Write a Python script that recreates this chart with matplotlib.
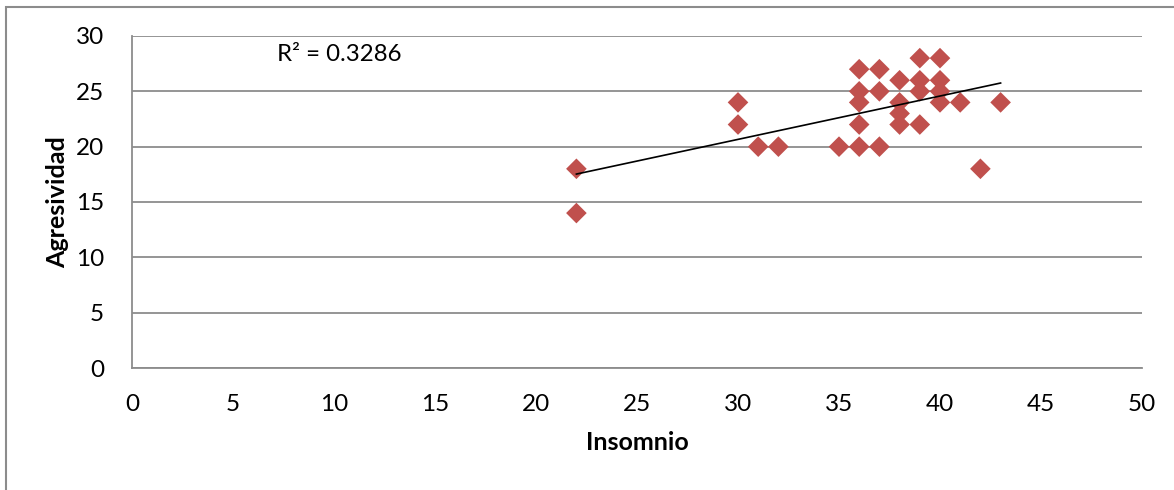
import numpy as np
import matplotlib
matplotlib.use("Agg")
import matplotlib.pyplot as plt
from matplotlib.patches import Rectangle

# Data
insomnio = [22, 22, 30, 30, 31, 32, 35,
            36, 36, 36, 36, 36,
            37, 37, 37,
            38, 38, 38, 38,
            39, 39, 39, 39,
            40, 40, 40, 40,
            41, 42, 43]
agresividad = [18, 14, 24, 22, 20, 20, 20,
               27, 25, 24, 22, 20,
               27, 25, 20,
               26, 24, 23, 22,
               28, 26, 25, 22,
               28, 26, 25, 24,
               24, 18, 24]
r2_label = "R² = 0.3286"
x_ticks = [0, 5, 10, 15, 20, 25, 30, 35, 40, 45, 50]
y_ticks = [0, 5, 10, 15, 20, 25, 30]

plt.rcParams['font.family'] = ['Lato', 'DejaVu Sans']

W, H = 1174, 490
fig = plt.figure(figsize=(W / 100, H / 100), dpi=100)
ax = fig.add_axes([132 / W, 1 - 368 / H, (1142 - 132) / W, (368 - 36) / H])

# outer frame (cropped at right/bottom like the reference)
fig.patches.append(Rectangle((6 / W, -0.1), 1.2, 1 - 7 / H + 0.1,
                             transform=fig.transFigure, fill=False,
                             edgecolor='#8c8c8c', linewidth=1.5, zorder=0))

ax.scatter(insomnio, agresividad, marker='D', s=10.5 ** 2, color='#C0504D',
           edgecolors='none', zorder=3)

# linear trend line
x = np.array(insomnio, dtype=float)
y = np.array(agresividad, dtype=float)
m, b = np.polyfit(x, y, 1)
xl = np.array([x.min(), x.max()])
ax.plot(xl, m * xl + b, color='black', linewidth=1.2, zorder=4)

ax.text(7.2, 28.3, r2_label, fontsize=17.3, va='center', ha='left')

ax.set_xlim(0, 50)
ax.set_ylim(0, 30)
ax.set_xticks(x_ticks)
ax.set_yticks(y_ticks)
ax.tick_params(axis='both', length=0, labelsize=17.5)
ax.tick_params(axis='x', pad=19)
ax.tick_params(axis='y', pad=20)
ax.grid(axis='y', color='#8c8c8c', linewidth=1.3)
ax.set_axisbelow(True)
for s in ['top', 'right']:
    ax.spines[s].set_visible(False)
for s in ['left', 'bottom']:
    ax.spines[s].set_color('#8c8c8c')
    ax.spines[s].set_linewidth(1.3)

ax.set_xlabel('Insomnio', fontsize=18, fontweight='bold', labelpad=11)
ax.set_ylabel('Agresividad', fontsize=18, fontweight='bold', labelpad=5)

fig.savefig('out.png', dpi=100)
